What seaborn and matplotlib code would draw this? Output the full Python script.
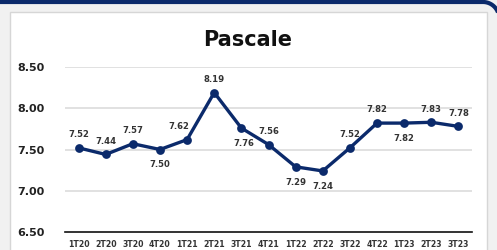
import numpy as np
import pandas as pd
import matplotlib
matplotlib.use("Agg")
import matplotlib.pyplot as plt
import matplotlib.patches as mpatches
from matplotlib.path import Path
import seaborn as sns

# data
quarters = ["1T20", "2T20", "3T20", "4T20", "1T21", "2T21", "3T21", "4T21",
            "1T22", "2T22", "3T22", "4T22", "1T23", "2T23", "3T23"]
scores = [7.52, 7.44, 7.57, 7.50, 7.62, 8.19, 7.76, 7.56,
          7.29, 7.24, 7.52, 7.82, 7.82, 7.83, 7.78]
label_side = ["up", "up", "up", "down", "up", "up", "down", "up",
              "down", "down", "up", "up", "down", "up", "up"]
y_ticks = [6.5, 7.0, 7.5, 8.0, 8.5]

df = pd.DataFrame({"quarter": quarters, "score": scores})

navy = "#0b2a6b"
sns.set_style("white")
plt.rcParams["font.family"] = ["DejaVu Sans"]

fig = plt.figure(figsize=(4.97, 2.5), dpi=100)
fig.patch.set_facecolor("#f1f1f1")

# white card behind the chart
card = mpatches.Rectangle((0.10, -0.5), 4.77, 2.5 - 0.12 + 0.5,
                          transform=fig.dpi_scale_trans, facecolor="white",
                          edgecolor="#d6d6d6", linewidth=1.0, zorder=-2)
fig.patches.append(card)

# navy frame: top edge with a rounded corner running off the right side
r = 16
cx, cy = 483, 2 + r
t = np.linspace(np.pi / 2, 0, 30)
px = np.concatenate([[-10], cx + r * np.cos(t), [cx + r, cx + r]])
py = np.concatenate([[2], cy - r * np.sin(t), [cy, 300]])
frame = mpatches.PathPatch(Path(np.column_stack([px / 100, (250 - py) / 100])),
                           transform=fig.dpi_scale_trans, facecolor="none",
                           edgecolor=navy, linewidth=3.0, zorder=-1)
fig.patches.append(frame)

ax = fig.add_axes([65 / 497, 18 / 250, 407 / 497, 165 / 250])
ax.set_zorder(2)
ax.set_facecolor("none")

sns.pointplot(data=df, x="quarter", y="score", color=navy, ax=ax,
              markers="o", markersize=4.5, linewidth=2.4, errorbar=None)

ax.set_xlim(-0.5, len(quarters) - 0.5)
ax.set_ylim(6.5, 8.5)
ax.set_yticks(y_ticks)
ax.set_yticklabels([f"{v:.2f}" for v in y_ticks], fontsize=8,
                   fontweight="bold", color="#222222")
ax.set_xticks(range(len(quarters)))
ax.set_xticklabels(quarters, fontsize=5.6, fontweight="bold", color="#333333")
ax.tick_params(axis="y", length=0, pad=15)
ax.tick_params(axis="x", length=0, pad=6)
for v in y_ticks[1:]:
    ax.axhline(v, color="#dedede", linewidth=1.3, zorder=0)
for s in ["top", "right", "left"]:
    ax.spines[s].set_visible(False)
ax.spines["bottom"].set_color("#111111")
ax.spines["bottom"].set_linewidth(1.2)
ax.set_xlabel("")
ax.set_ylabel("")

for i, (v, side) in enumerate(zip(scores, label_side)):
    dy = 9.5 if side == "up" else -11
    dx = {4: -6, 6: 2}.get(i, 0)
    ax.annotate(f"{v:.2f}", (i, v), xytext=(dx, dy), textcoords="offset points",
                ha="center", va="center", fontsize=6.1, fontweight="bold",
                color="#333333")

fig.text(248 / 497, 1 - 40 / 250, "Pascale", ha="center", va="center",
         fontsize=15, fontweight="bold", color="#111111")

fig.savefig("out.png", dpi=100, facecolor=fig.get_facecolor())
